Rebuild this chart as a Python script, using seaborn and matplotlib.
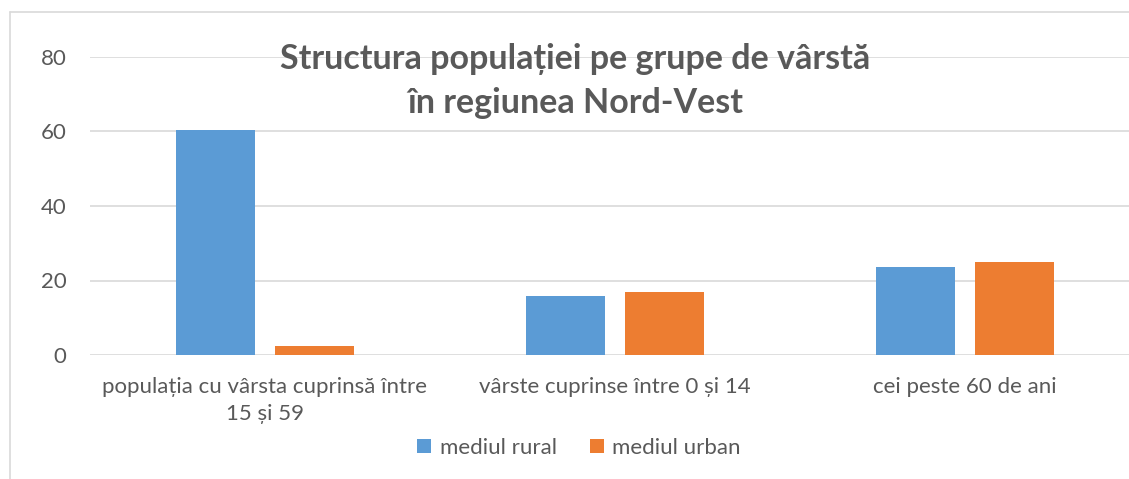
import matplotlib
matplotlib.use("Agg")
import matplotlib.pyplot as plt
import matplotlib.lines as mlines
import pandas as pd
import seaborn as sns

categories = [
    "populația cu vârsta cuprinsă între\n15 și 59",
    "vârste cuprinse între 0 și 14",
    "cei peste 60 de ani",
]
rural = [60.5, 15.9, 23.7]
urban = [2.3, 17.0, 25.1]
series = ["mediul rural", "mediul urban"]
colors = ["#5B9BD5", "#ED7D31"]
yticks = [0, 20, 40, 60, 80]

df = pd.DataFrame({
    "categorie": categories * 2,
    "valoare": rural + urban,
    "mediu": [series[0]] * 3 + [series[1]] * 3,
})

sns.set_theme(style="white")
plt.rcParams["font.family"] = ["Lato", "DejaVu Sans"]
text_col = "#595959"

fig = plt.figure(figsize=(11.29, 4.79), dpi=100)
W, H = 1129, 479
ax = fig.add_axes([90 / W, (H - 355) / H, 1050 / W, 298 / H])

sns.barplot(data=df, x="categorie", y="valoare", hue="mediu", order=categories,
            hue_order=series, palette=colors, width=0.5714, gap=0.21,
            linewidth=0, saturation=1, ax=ax, legend=False)

ax.set_xlim(-0.5, 2.5)
ax.set_ylim(0, 80)
ax.set_yticks(yticks)
ax.yaxis.grid(True, color="#D9D9D9", linewidth=1.2)
ax.set_axisbelow(True)
for s in ax.spines.values():
    s.set_visible(False)
ax.tick_params(axis="both", length=0, colors=text_col, labelsize=16)
ax.tick_params(axis="y", pad=17)
ax.tick_params(axis="x", pad=16)
for lbl in ax.get_xticklabels():
    lbl.set_linespacing(1.4)
ax.set_xlabel("")
ax.set_ylabel("")

fig.text(575 / W, 1 - 81 / H, "Structura populației pe grupe de vârstă\nîn regiunea Nord-Vest",
         ha="center", va="center", fontsize=24.5, fontweight="bold", color=text_col,
         linespacing=1.45)

handles = [mlines.Line2D([], [], marker="s", linestyle="", markersize=9.5,
                         markerfacecolor=c, markeredgewidth=0) for c in colors]
fig.legend(handles, series, loc="center", bbox_to_anchor=(578 / W, 1 - 448 / H),
           ncol=2, frameon=False, fontsize=16, handlelength=0.8, handletextpad=0.3,
           columnspacing=1.4, labelcolor=text_col)

# chart border (image is cropped on right and bottom)
fig.add_artist(mlines.Line2D([10 / W, 1], [1 - 12 / H] * 2, color="#D9D9D9", lw=1.2))
fig.add_artist(mlines.Line2D([10 / W] * 2, [0, 1 - 12 / H], color="#D9D9D9", lw=1.2))

fig.savefig("out.png", dpi=100, facecolor="white")
